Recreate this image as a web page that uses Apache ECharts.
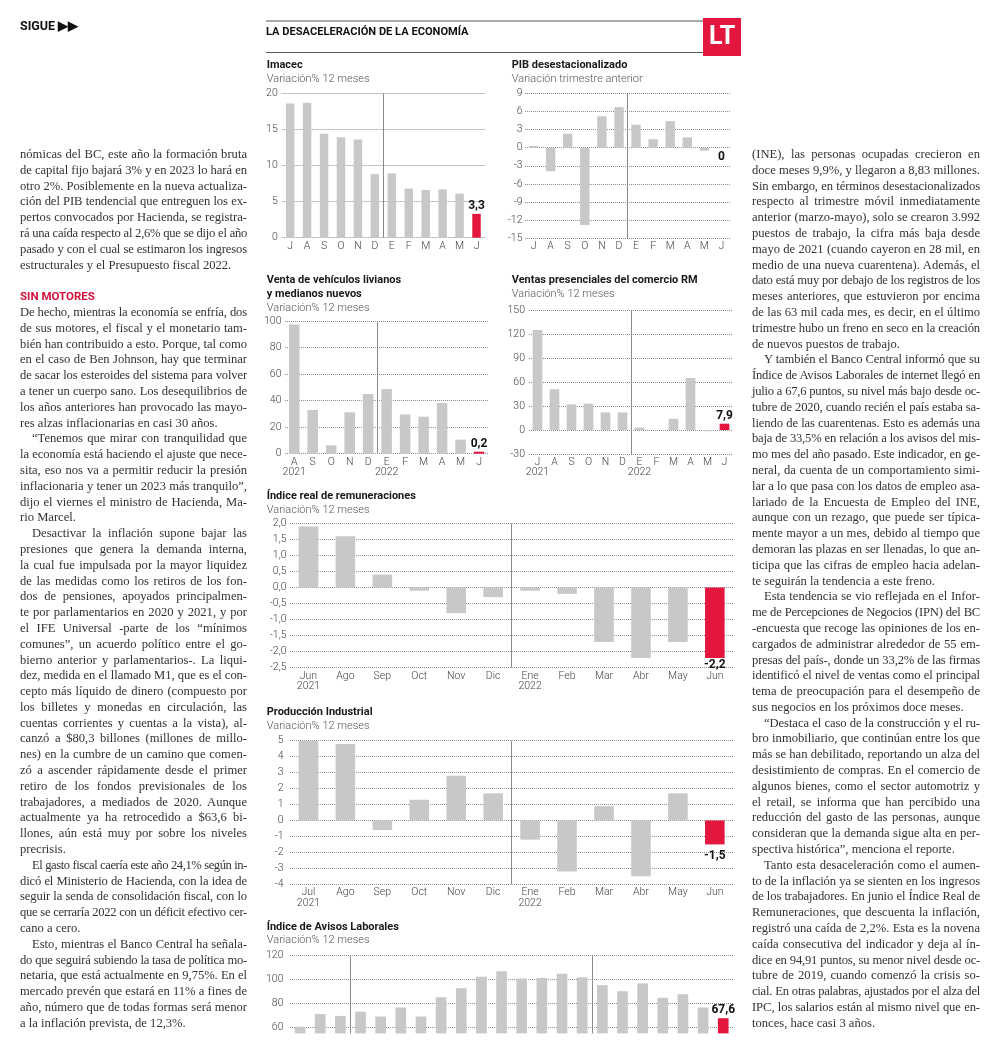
<!DOCTYPE html>
<html><head><meta charset="utf-8">
<script src="https://cdn.jsdelivr.net/npm/echarts@6/dist/echarts.min.js"></script>
<style>
html,body{margin:0;padding:0;background:#fff;}
body{width:1000px;height:1052px;position:relative;overflow:hidden;}
#chart{position:absolute;left:0;top:0;width:1000px;height:1052px;}
.col{position:absolute;font-family:"Liberation Serif","DejaVu Serif",serif;font-size:12.6px;color:#333;z-index:2;}
.l{white-space:nowrap;text-align:justify;text-align-last:justify;height:15.8px;line-height:15.8px;}
.col.measure .l{text-align:left;text-align-last:left;}
.l.e{text-align-last:left;}
.l.i{text-indent:12px;}
.l.sec{font-family:Roboto,"Open Sans",sans-serif;font-weight:bold;color:#d3123c;font-size:11.5px;text-align-last:left;}
#sigue{position:absolute;left:20px;top:18px;font-family:Roboto,"Open Sans",sans-serif;font-weight:bold;font-size:12.5px;color:#111;z-index:2;}
</style></head>
<body>
<div id="chart"></div>
<div id="sigue">SIGUE ▶▶</div>
<div class="col" id="colL" style="left:20px;top:147px;width:227px"></div>
<div class="col" id="colR" style="left:752px;top:147px;width:228px"></div>
<script>
// ---------- DATA ----------
const imacecCats = ['J','A','S','O','N','D','E','F','M','A','M','J'];
const imacecVals = [18.6,18.7,14.4,13.9,13.6,8.8,8.9,6.8,6.6,6.7,6.1,3.3];

const pibCats = ['J','A','S','O','N','D','E','F','M','A','M','J'];
const pibVals = [0.3,-3.9,2.3,-12.8,5.2,6.7,3.8,1.4,4.4,1.7,-0.5,0];

const vehCats = ['A\n2021','S','O','N','D','E\n2022','F','M','A','M','J'];
const vehVals = [97.4,33,6.3,31.2,45,48.7,29.6,27.9,38.2,10.6,0.2];

const ventasCats = ['J\n2021','A','S','O','N','D','E\n2022','F','M','A','M','J'];
const ventasVals = [125,51,32,33,22,22,3,0,14,65,-1.5,7.9];

const remunCats = ['Jun\n2021','Ago','Sep','Oct','Nov','Dic','Ene\n2022','Feb','Mar','Abr','May','Jun'];
const remunVals = [1.9,1.6,0.4,-0.1,-0.8,-0.3,-0.1,-0.2,-1.7,-2.2,-1.7,-2.2];

const prodCats = ['Jul\n2021','Ago','Sep','Oct','Nov','Dic','Ene\n2022','Feb','Mar','Abr','May','Jun'];
const prodVals = [5.0,4.8,-0.6,1.3,2.8,1.7,-1.2,-3.2,0.9,-3.5,1.7,-1.5];

const avisosCats = ['Oct','Nov','Dic','Ene','Feb','Mar','Abr','May','Jun','Jul','Ago','Sep','Oct','Nov','Dic','Ene','Feb','Mar','Abr','May','Jun','Jul'];
const avisosVals = [60.5,71,69.5,73,69,76.5,69,85,92.5,102,106.5,100.5,101,104.5,101.5,95,90,96.5,84.5,87.5,76.5,67.6];
const avisosTicks = [60,80,100,120];

// ---------- TEXT ----------
const leftLines = [
'nómicas del BC, este año la formación bruta',
'de capital fijo bajará 3% y en 2023 lo hará en',
'otro 2%. Posiblemente en la nueva actualiza-',
'ción del PIB tendencial que entreguen los ex-',
'pertos convocados por Hacienda, se registra-',
'rá una caída respecto al 2,6% que se dijo el año',
'pasado y con el cual se estimaron los ingresos',
'estructurales y el Presupuesto fiscal 2022.|',
'',
'#SIN MOTORES',
'De hecho, mientras la economía se enfría, dos',
'de sus motores, el fiscal y el monetario tam-',
'bién han contribuido a esto. Porque, tal como',
'en el caso de Ben Johnson, hay que terminar',
'de sacar los esteroides del sistema para volver',
'a tener un cuerpo sano. Los desequilibrios de',
'los años anteriores han provocado las mayo-',
'res alzas inflacionarias en casi 30 años.|',
'>“Tenemos que mirar con tranquilidad que',
'la economía está haciendo el ajuste que nece-',
'sita, eso nos va a permitir reducir la presión',
'inflacionaria y tener un 2023 más tranquilo”,',
'dijo el viernes el ministro de Hacienda, Ma-',
'rio Marcel.|',
'>Desactivar la inflación supone bajar las',
'presiones que genera la demanda interna,',
'la cual fue impulsada por la mayor liquidez',
'de las medidas como los retiros de los fon-',
'dos de pensiones, apoyados principalmen-',
'te por parlamentarios en 2020 y 2021, y por',
'el IFE Universal -parte de los “mínimos',
'comunes”, un acuerdo político entre el go-',
'bierno anterior y parlamentarios-. La liqui-',
'dez, medida en el llamado M1, que es el con-',
'cepto más líquido de dinero (compuesto por',
'los billetes y monedas en circulación, las',
'cuentas corrientes y cuentas a la vista), al-',
'canzó a $80,3 billones (millones de millo-',
'nes) en la cumbre de un camino que comen-',
'zó a ascender rápidamente desde el primer',
'retiro de los fondos previsionales de los',
'trabajadores, a mediados de 2020. Aunque',
'actualmente ya ha retrocedido a $63,6 bi-',
'llones, aún está muy por sobre los niveles',
'precrisis.|',
'>El gasto fiscal caería este año 24,1% según in-',
'dicó el Ministerio de Hacienda, con la idea de',
'seguir la senda de consolidación fiscal, con lo',
'que se cerraría 2022 con un déficit efectivo cer-',
'cano a cero.|',
'>Esto, mientras el Banco Central ha señala-',
'do que seguirá subiendo la tasa de política mo-',
'netaria, que está actualmente en 9,75%. En el',
'mercado prevén que estará en 11% a fines de',
'año, número que de todas formas será menor',
'a la inflación prevista, de 12,3%.|'
];
const rightLines = [
'(INE), las personas ocupadas crecieron en',
'doce meses 9,9%, y llegaron a 8,83 millones.',
'Sin embargo, en términos desestacionalizados',
'respecto al trimestre móvil inmediatamente',
'anterior (marzo-mayo), solo se crearon 3.992',
'puestos de trabajo, la cifra más baja desde',
'mayo de 2021 (cuando cayeron en 28 mil, en',
'medio de una nueva cuarentena). Además, el',
'dato está muy por debajo de los registros de los',
'meses anteriores, que estuvieron por encima',
'de las 63 mil cada mes, es decir, en el último',
'trimestre hubo un freno en seco en la creación',
'de nuevos puestos de trabajo.|',
'>Y también el Banco Central informó que su',
'Índice de Avisos Laborales de internet llegó en',
'julio a 67,6 puntos, su nivel más bajo desde oc-',
'tubre de 2020, cuando recién el país estaba sa-',
'liendo de las cuarentenas. Esto es además una',
'baja de 33,5% en relación a los avisos del mis-',
'mo mes del año pasado. Este indicador, en ge-',
'neral, da cuenta de un comportamiento simi-',
'lar a lo que pasa con los datos de empleo asa-',
'lariado de la Encuesta de Empleo del INE,',
'aunque con un rezago, que puede ser típica-',
'mente mayor a un mes, debido al tiempo que',
'demoran las plazas en ser llenadas, lo que an-',
'ticipa que las cifras de empleo hacia adelan-',
'te seguirán la tendencia a este freno.|',
'>Esta tendencia se vio reflejada en el Infor-',
'me de Percepciones de Negocios (IPN) del BC',
'-encuesta que recoge las opiniones de los en-',
'cargados de administrar alrededor de 55 em-',
'presas del país-, donde un 33,2% de las firmas',
'identificó el nivel de ventas como el principal',
'tema de preocupación para el desempeño de',
'sus negocios en los próximos doce meses.|',
'>“Destaca el caso de la construcción y el ru-',
'bro inmobiliario, que continúan entre los que',
'más se han debilitado, reportando un alza del',
'desistimiento de compras. En el comercio de',
'algunos bienes, como el sector automotriz y',
'el retail, se informa que han percibido una',
'reducción del gasto de las personas, aunque',
'consideran que la demanda sigue alta en per-',
'spectiva histórica”, menciona el reporte.|',
'>Tanto esta desaceleración como el aumen-',
'to de la inflación ya se sienten en los ingresos',
'de los trabajadores. En junio el Índice Real de',
'Remuneraciones, que descuenta la inflación,',
'registró una caída de 2,2%. Esta es la novena',
'caída consecutiva del indicador y deja al ín-',
'dice en 94,91 puntos, su menor nivel desde oc-',
'tubre de 2019, cuando comenzó la crisis so-',
'cial. En otras palabras, ajustados por el alza del',
'IPC, los salarios están al mismo nivel que en-',
'tonces, hace casi 3 años.|'
];

function buildCol(id, lines){
  const col = document.getElementById(id);
  lines.forEach(t => {
    const d = document.createElement('div');
    d.className = 'l';
    if (t.startsWith('#')) { d.classList.add('sec'); t = t.slice(1); }
    if (t.startsWith('>')) { d.classList.add('i'); t = t.slice(1); }
    if (t.endsWith('|')) { d.classList.add('e'); t = t.slice(0,-1); }
    const s = document.createElement('span');
    s.textContent = t || '\u00a0';
    d.appendChild(s);
    col.appendChild(d);
  });
  col.classList.add('measure');
  const W = col.clientWidth;
  col.querySelectorAll('.l').forEach(d => {
    const s = d.firstElementChild;
    const w = s.getBoundingClientRect().width;
    const avail = W - (d.classList.contains('i') ? 12 : 0);
    if (w > avail) {
      const n = s.textContent.length;
      s.style.letterSpacing = ((avail - w) / n - 0.03) + 'px';
    }
  });
  col.classList.remove('measure');
}
buildCol('colL', leftLines);
buildCol('colR', rightLines);

// ---------- CHARTS ----------
const RED = '#e3173e', GREY = '#c8c8ca';
const TF = 'Roboto, "Open Sans", sans-serif';
const LF = 'Roboto, "Open Sans", sans-serif';
const fmt = v => String(v).replace('.', ',');

const layout = [
  {title:'Imacec', tl:266.7, tt:58, left:281.7, top:93.3, width:203.3, height:144.4,
   cats:imacecCats, vals:imacecVals, min:0, max:20, interval:5, divs:[0,6], bw:'50%', lp:'top', ld:2, ym:4},
  {title:'PIB desestacionalizado', sub:'Variación trimestre anterior', tl:511.7, tt:58, left:525, top:93.3, width:205, height:145,
   cats:pibCats, vals:pibVals, min:-15, max:9, interval:3, divs:[0,6], bw:'55%', lp:'bottom', ld:3, ym:2.5},
  {title:'Venta de vehículos livianos\ny medianos nuevos', tl:266.7, tt:273, left:285, top:321, width:203.3, height:132.7,
   cats:vehCats, vals:vehVals, min:0, max:100, interval:20, divs:[0,5], bw:'57%', lp:'top', ld:2, ym:3.5, minH:2},
  {title:'Ventas presenciales del comercio RM', tl:511.7, tt:273, left:529, top:310, width:204, height:144,
   cats:ventasCats, vals:ventasVals, min:-30, max:150, interval:30, divs:[0,6], bw:'57%', lp:'top', ld:2, ym:4},
  {title:'Índice real de remuneraciones', tl:266.7, tt:489, left:290, top:523.3, width:443.3, height:144.4,
   cats:remunCats, vals:remunVals, min:-2.5, max:2, interval:0.5, divs:[0,6], bw:'53%', lp:'bottom', ld:1, ym:3.5,
   yfmt: v => v.toFixed(1).replace('.', ',')},
  {title:'Producción Industrial', tl:266.7, tt:705.3, left:290, top:740.7, width:443.3, height:143.6,
   cats:prodCats, vals:prodVals, min:-4, max:5, interval:1, divs:[0,6], bw:'53%', lp:'bottom', ld:6, ym:6.5},
  {title:'Índice de Avisos Laborales', tl:266.7, tt:919.7, left:290, top:955, width:443.3, height:78.4,
   cats:avisosCats, vals:avisosVals, min:55, max:120, interval:5, divs:[0,3,15], bw:'53%', lp:'top', ld:2, ym:6.5,
   yfmt: v => (avisosTicks.indexOf(v) >= 0 ? String(v) : ''), noSplit:true, marks:avisosTicks, noX:true}
];

const option = {
  animation:false,
  textStyle:{fontFamily:LF},
  title:[{text:'LA DESACELERACIÓN DE LA ECONOMÍA', left:266, top:27, padding:0,
          textStyle:{fontFamily:TF, fontWeight:'bold', fontSize:11.1, color:'#111'}}],
  grid:[], xAxis:[], yAxis:[], series:[],
  graphic:[
    {type:'line', shape:{x1:266, y1:21, x2:703, y2:21}, style:{stroke:'#555', lineWidth:1}},
    {type:'line', shape:{x1:266, y1:52.5, x2:703, y2:52.5}, style:{stroke:'#555', lineWidth:1}},
    {type:'rect', shape:{x:703, y:18, width:38, height:38}, style:{fill:RED}},
    {type:'text', x:722, y:38, style:{text:'LT', fill:'#fff', font:'bold 25px Roboto, sans-serif', align:'center', verticalAlign:'middle'}}
  ]
};

layout.forEach((c, i) => {
  option.title.push({
    text:c.title, subtext:c.sub || 'Variación% 12 meses', left:c.tl, top:c.tt, padding:0, itemGap:0,
    textStyle:{fontFamily:TF, fontWeight:'bold', fontSize:11, color:'#1a1a1a', lineHeight:14.3},
    subtextStyle:{fontFamily:LF, fontWeight:300, fontSize:11, color:'#555', lineHeight:13}
  });
  option.grid.push({left:c.left, top:c.top, width:c.width, height:c.height, containLabel:false});
  option.xAxis.push({
    type:'category', gridIndex:i, data:c.cats,
    axisLine:{show:false, onZero:false}, axisTick:{show:false},
    axisLabel:{show:!c.noX, interval:0, margin:3, fontSize:10.5, fontWeight:300, color:'#444', lineHeight:10.5, fontFamily:LF},
    splitLine:{show:true, showMinLine:false, showMaxLine:false,
               interval:(idx) => c.divs.indexOf(idx) >= 0, lineStyle:{color:'#8a8a8a', width:1, type:'solid'}}
  });
  option.yAxis.push({
    type:'value', gridIndex:i, min:c.min, max:c.max, interval:c.interval,
    axisLine:{show:false}, axisTick:{show:false},
    axisLabel:{margin:c.ym, fontSize:10.5, fontWeight:300, color:'#444', fontFamily:LF,
               formatter: c.yfmt || (v => String(v))},
    splitLine:{show:!c.noSplit, lineStyle:{type:'dotted', color:'#8c8c8c', width:1}}
  });
  const last = c.vals.length - 1;
  const s = {
    type:'bar', xAxisIndex:i, yAxisIndex:i, barWidth:c.bw, barMinHeight:c.minH || 0, silent:true,
    itemStyle:{color:GREY}, z:3,
    data:c.vals.map((v, j) => j === last ? {
      value:v, itemStyle:{color:RED},
      label:{show:true, position:c.lp, distance:c.ld, formatter:fmt(v), color:'#111',
             fontWeight:'bold', fontSize:12, fontFamily:LF}
    } : v)
  };
  if (c.marks) {
    s.markLine = {silent:true, symbol:'none', z:1, label:{show:false},
      lineStyle:{type:'dotted', color:'#8c8c8c', width:1},
      data:c.marks.map(v => ({yAxis:v}))};
  }
  option.series.push(s);
});

const chart = echarts.init(document.getElementById('chart'), null, {renderer:'canvas'});
chart.setOption(option);
</script>
</body></html>
